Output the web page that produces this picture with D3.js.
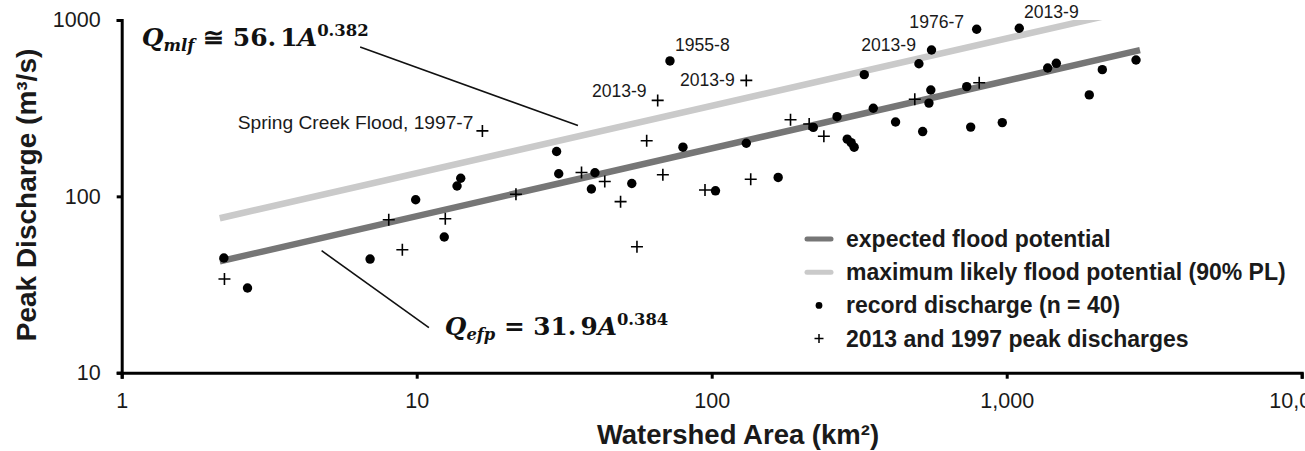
<!DOCTYPE html>
<html>
<head>
<meta charset="utf-8">
<script src="https://cdn.jsdelivr.net/npm/d3@7"></script>
<style>
  html, body { margin: 0; padding: 0; background: #fff; }
  svg { display: block; }
  text { font-family: "Liberation Sans", Arial, sans-serif; fill: #1a1a1a; }
  .eq text, text.eq { font-family: "DejaVu Serif", serif; font-weight: bold; fill: #111; }
</style>
</head>
<body>
<svg id="chart" width="1305" height="451"></svg>
<script>
// Record peak discharges: watershed area (km²) and discharge (m³/s)
const recordArea = [2.22, 2.67, 6.95, 9.92, 12.4, 13.7, 14.1, 29.8, 30.3, 39.1,
  40.2, 53.6, 72.2, 79.9, 103, 131, 168, 221, 266, 288,
  297, 304, 329, 353, 420, 504, 519, 545, 553, 556,
  732, 755, 791, 966, 1103, 1377, 1473, 1905, 2109, 2744];
const recordQ = [44.7, 30.2, 44.1, 95.7, 58.8, 114.5, 126.6, 179.6, 134.4, 110.1,
  136, 118.3, 586, 190, 107.5, 200, 128, 246, 283, 211,
  201.5, 190, 490, 316, 264, 565, 233, 338, 401, 676,
  419, 247, 886, 262, 898, 534, 568, 376, 523, 593];

// 2013 and 1997 flood peaks
const eventArea = [2.23, 8.04, 8.94, 12.5, 16.7, 21.7, 36.2, 43.4, 49.1, 55.8,
  60.2, 65.6, 68.3, 94.9, 131, 135.6, 185, 214, 240, 488, 807];
const eventQ = [34, 73.7, 49.8, 74.6, 235, 102.8, 136.5, 121.4, 93.3, 51.8,
  206.5, 350, 132.7, 108.6, 454.5, 124.9, 272, 257, 219, 355.5, 441];

// Envelope curves Q = a * A^b
const curveNames = ["expected flood potential", "maximum likely flood potential (90% PL)"];
const curveCoef = [31.9, 56.1];
const curveExp = [0.384, 0.382];
const curveAreaRange = [2.15, 2830];

// Labelled floods (text, area, discharge)
const noteText = ["Spring Creek Flood, 1997-7", "1955-8", "2013-9", "2013-9", "2013-9", "1976-7", "2013-9"];
const noteArea = [16.7, 72.2, 65.6, 131, 556, 791, 1103];
const noteQ = [235, 586, 350, 454.5, 676, 886, 898];

const legendLabels = ["expected flood potential", "maximum likely flood potential (90% PL)",
  "record discharge (n = 40)", "2013 and 1997 peak discharges"];

const xTicks = [1, 10, 100, 1000, 10000];
const yTicks = [10, 100, 1000];

const svg = d3.select("#chart");
const x = d3.scaleLog().domain([1, 10000]).range([121.7, 1301.7]);
const y = d3.scaleLog().domain([10, 1000]).range([372.7, 20]);

// clip region for the envelope curves
svg.append("defs").append("clipPath").attr("id", "plotClip")
  .append("rect").attr("x", x(1)).attr("y", y(1000))
  .attr("width", x(10000) - x(1)).attr("height", y(10) - y(1000));

// envelope curves
const curveColor = ["#767676", "#cacaca"];
const curveGroup = svg.append("g").attr("clip-path", "url(#plotClip)");
[1, 0].forEach(i => {
  const pts = curveAreaRange.map(a => [a, curveCoef[i] * Math.pow(a, curveExp[i])]);
  curveGroup.append("path")
    .attr("d", d3.line().x(d => x(d[0])).y(d => y(d[1]))(pts))
    .attr("stroke", curveColor[i]).attr("stroke-width", 6.5).attr("fill", "none");
});

// axes
const yAxis = svg.append("g").attr("transform", `translate(${x(1)},0)`)
  .call(d3.axisLeft(y).tickValues(yTicks).tickFormat(d3.format("d")).tickSize(5).tickSizeOuter(5).tickPadding(16));
const xAxis = svg.append("g").attr("transform", `translate(0,${y(10)})`)
  .call(d3.axisBottom(x).tickValues(xTicks).tickFormat(d3.format(",")).tickSize(6).tickSizeOuter(6).tickPadding(14));
[xAxis, yAxis].forEach(g => {
  g.select(".domain").attr("stroke", "#000").attr("stroke-width", 3);
  g.selectAll(".tick line").attr("stroke", "#000").attr("stroke-width", 3);
  g.selectAll(".tick text").attr("font-size", 21.5).attr("font-family", "Liberation Sans, Arial, sans-serif").attr("fill", "#222");
});

// record discharge dots
svg.append("g").selectAll("circle").data(d3.range(recordArea.length)).join("circle")
  .attr("cx", i => x(recordArea[i])).attr("cy", i => y(recordQ[i])).attr("r", 4.7).attr("fill", "#000");

// 2013 / 1997 peaks as crosses
const crossPath = s => `M${-s},0H${s}M0,${-s}V${s}`;
svg.append("g").selectAll("path").data(d3.range(eventArea.length)).join("path")
  .attr("transform", i => `translate(${x(eventArea[i])},${y(eventQ[i])})`)
  .attr("d", crossPath(6)).attr("stroke", "#000").attr("stroke-width", 1.6).attr("fill", "none");

// flood labels
const noteOffset = [[-9, -9, "end"], [5, -16, "start"], [-11, -9.5, "end"], [-11.5, -1, "end"],
  [-15.5, -5.5, "end"], [-12.5, -7, "end"], [4.7, -16, "start"]];
svg.append("g").selectAll("text").data(d3.range(noteText.length)).join("text")
  .attr("x", i => x(noteArea[i]) + noteOffset[i][0])
  .attr("y", i => y(noteQ[i]) + noteOffset[i][1])
  .attr("dy", "0.35em").attr("text-anchor", i => noteOffset[i][2])
  .attr("font-size", i => i === 0 ? 19.2 : 17.6).attr("fill", "#222")
  .text(i => noteText[i]);

// regression equations with leader lines
function equation(px, py, size, sub, rel, coefA, coefB, expo) {
  const t = svg.append("text").attr("class", "eq").attr("x", px).attr("y", py).attr("font-size", size);
  t.append("tspan").attr("font-style", "italic").text("Q");
  t.append("tspan").attr("font-style", "italic").attr("font-size", size * 0.66).attr("dy", 5).text(sub);
  t.append("tspan").attr("dy", -5).text(" " + rel + " " + coefA);
  t.append("tspan").attr("dx", 4).text(coefB);
  t.append("tspan").attr("font-style", "italic").text("A");
  t.append("tspan").attr("font-size", size * 0.66).attr("dy", -10).text(expo);
}
equation(x(1.17), y(712), 25, "mlf", "\u2245", "56.", "1", "0.382");
equation(x(12.45), y(16.4), 24.8, "efp", "=", "31.", "9", "0.384");

const leaders = [[[6.43, 703], [35.2, 252]], [[4.76, 49.2], [11.0, 18.0]]];
leaders.forEach(l => {
  svg.append("line").attr("x1", x(l[0][0])).attr("y1", y(l[0][1]))
    .attr("x2", x(l[1][0])).attr("y2", y(l[1][1]))
    .attr("stroke", "#111").attr("stroke-width", 1.6);
});

// legend
const lg = svg.append("g").attr("transform", "translate(819,239)");
const rowH = 33.2;
legendLabels.forEach((lab, i) => {
  const row = lg.append("g").attr("transform", `translate(0,${i * rowH})`);
  if (i < 2) {
    row.append("line").attr("x1", -12).attr("x2", 12).attr("stroke", curveColor[i])
      .attr("stroke-width", 5).attr("stroke-linecap", "round");
  } else if (i === 2) {
    row.append("circle").attr("r", 3.4).attr("fill", "#000");
  } else {
    row.append("path").attr("d", crossPath(4.5)).attr("stroke", "#000").attr("stroke-width", 1.5);
  }
  row.append("text").attr("x", 27).attr("dy", "0.35em").attr("font-size", 23)
    .attr("font-weight", "bold").attr("fill", "#111").text(lab);
});

// axis titles
svg.append("text").attr("x", 738).attr("y", 444).attr("text-anchor", "middle")
  .attr("font-size", 27.5).attr("font-weight", "bold").attr("fill", "#111").text("Watershed Area (km²)");
svg.append("text").attr("transform", "translate(36,195) rotate(-90)").attr("text-anchor", "middle")
  .attr("font-size", 28).attr("font-weight", "bold").attr("fill", "#111").text("Peak Discharge (m³/s)");
</script>
</body>
</html>
